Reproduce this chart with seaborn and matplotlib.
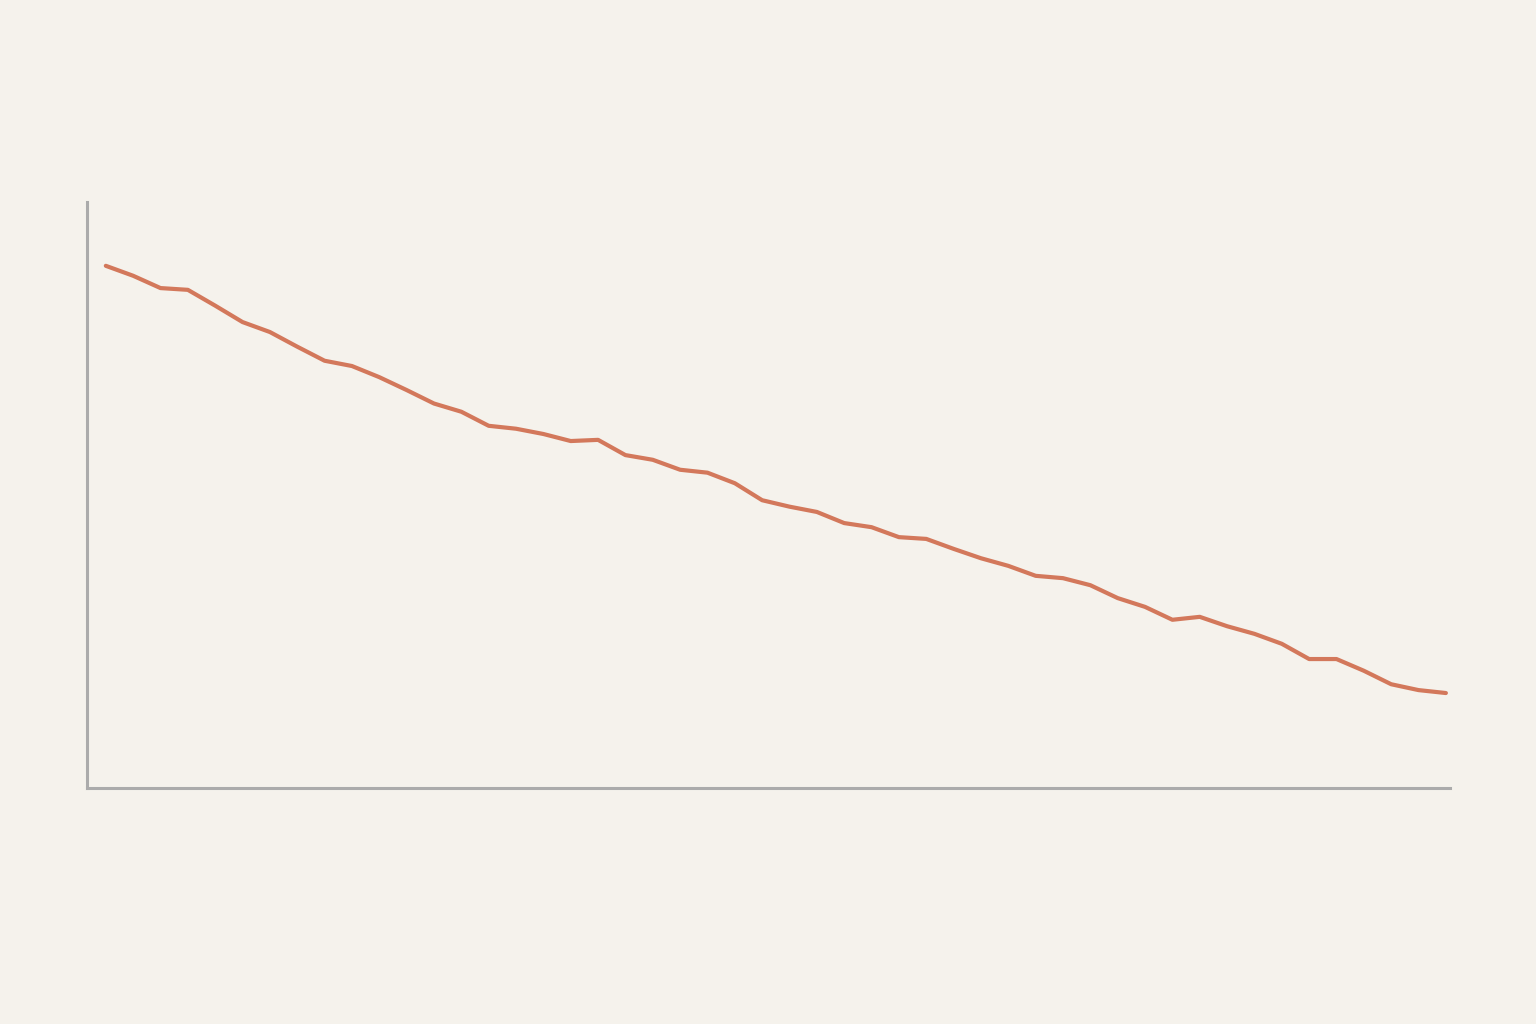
import numpy as np
import pandas as pd
import matplotlib
matplotlib.use("Agg")
import matplotlib.pyplot as plt
import seaborn as sns

BG = "#F5F2EC"
LINE_COLOR = "#D3785B"
AXIS_COLOR = "#ABABAB"

# values (50 evenly spaced steps)
steps = list(range(50))
values = [
    89.1, 87.4, 85.3, 85.0, 82.3, 79.5, 77.8, 75.3, 72.9, 72.0,
    70.1, 67.9, 65.6, 64.2, 61.8, 61.3, 60.4, 59.2, 59.4, 56.8,
    56.0, 54.3, 53.8, 52.0, 49.1, 48.0, 47.1, 45.2, 44.5, 42.8,
    42.5, 40.8, 39.2, 37.9, 36.2, 35.8, 34.6, 32.4, 30.9, 28.7,
    29.2, 27.6, 26.3, 24.6, 22.0, 22.0, 20.0, 17.7, 16.7, 16.2,
]

df = pd.DataFrame({"step": steps, "value": values})

sns.set_theme(style="white")
fig = plt.figure(figsize=(15.36, 10.24), dpi=100, facecolor=BG)
ax = fig.add_axes([0.0566, 0.2305, 0.8874, 0.5723])
ax.set_facecolor(BG)

sns.lineplot(data=df, x="step", y="value", ax=ax, color=LINE_COLOR,
             linewidth=3.0, solid_capstyle="round", solid_joinstyle="round")

ax.set_xlim(-0.69, 49.15)
ax.set_ylim(0, 100)
ax.set_xticks([])
ax.set_yticks([])
ax.set_xlabel("")
ax.set_ylabel("")
for side in ["top", "right"]:
    ax.spines[side].set_visible(False)
for side in ["left", "bottom"]:
    ax.spines[side].set_color(AXIS_COLOR)
    ax.spines[side].set_linewidth(2.2)

fig.savefig("out.png", dpi=100, facecolor=BG)
